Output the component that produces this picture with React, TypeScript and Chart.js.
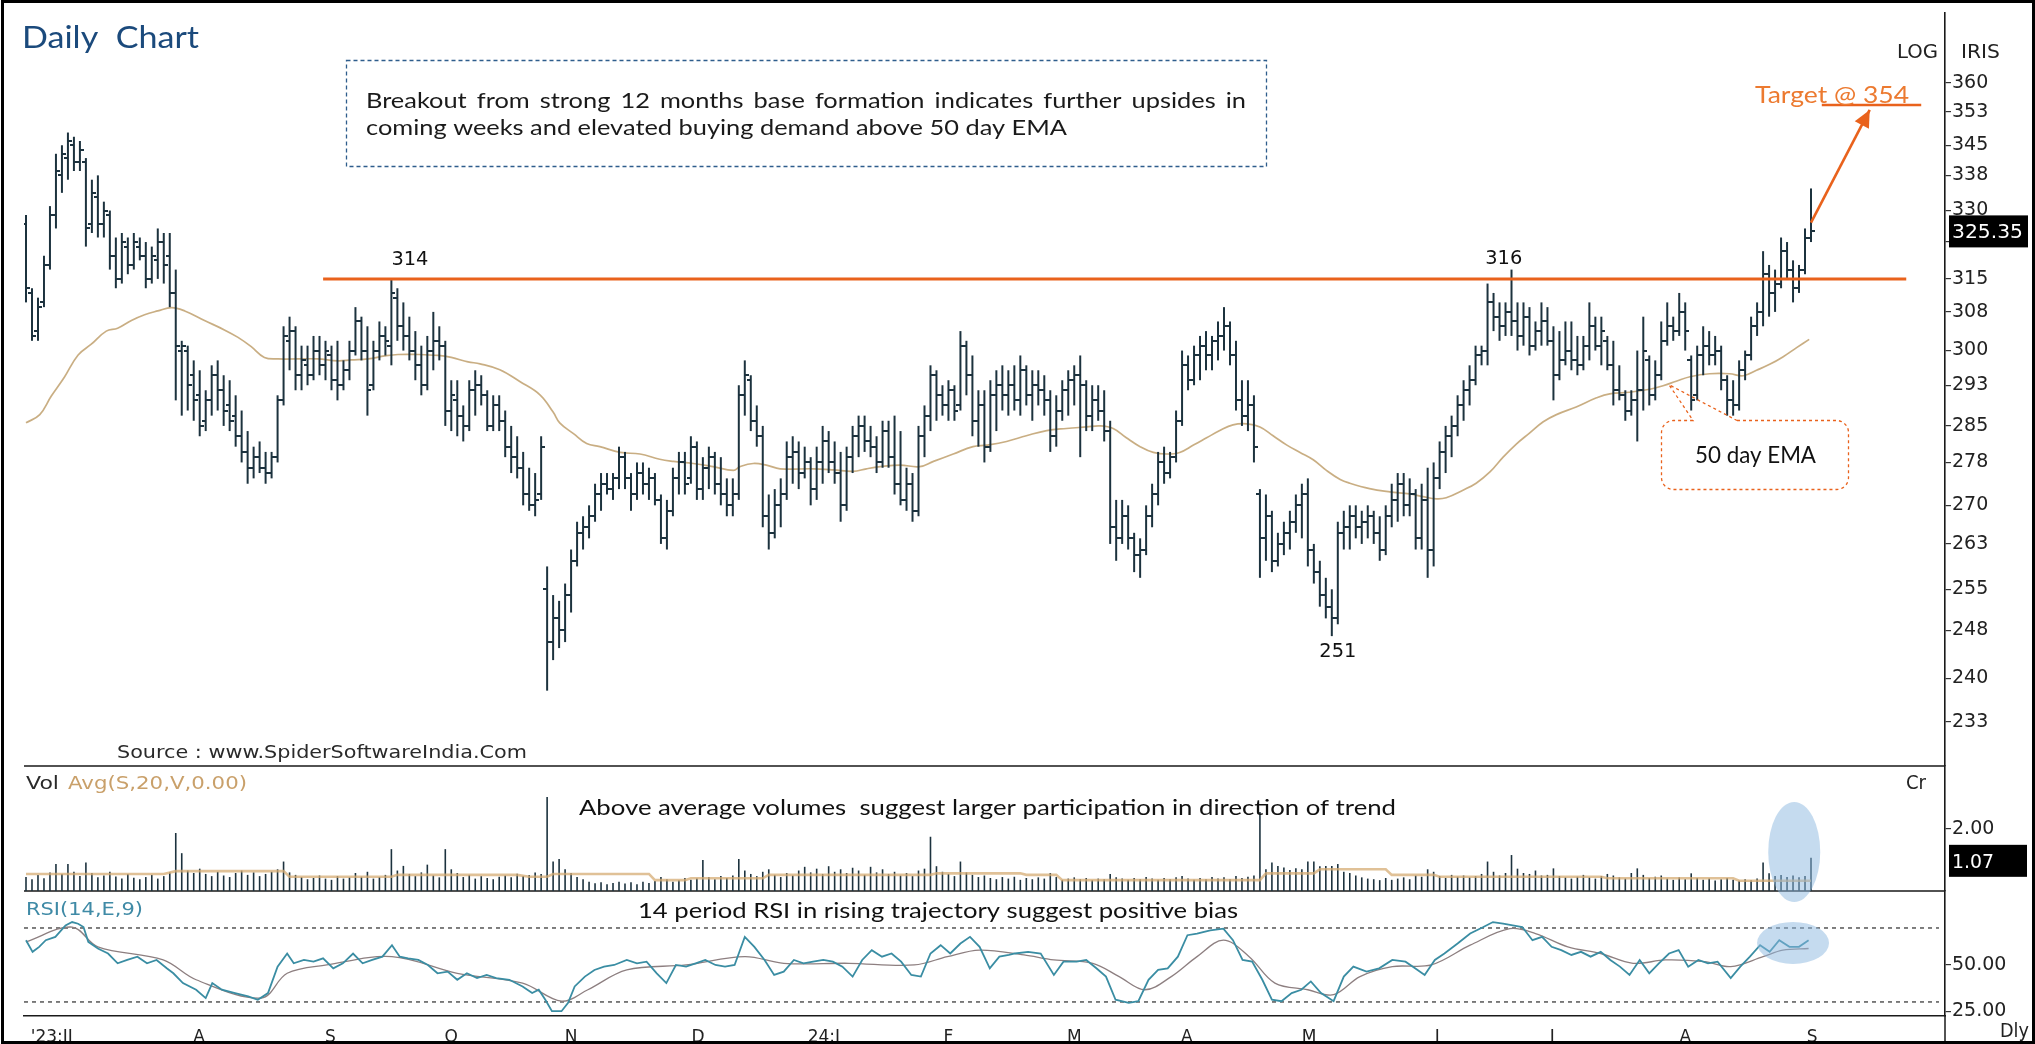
import React, { useEffect, useRef } from 'react';
import { Chart, registerables } from 'chart.js';

Chart.register(...registerables);

const W = 2035;
const H = 1044;

// ---------- DATA ----------
const opens = [
  327,312,304,310,318,329,338,342,345,341,
  341,327,333,327,329,320,315,322,318,322,
  320,315,319,323,320,312,300,300,295,291,
  286,290,295,292,289,287,283,280,277,279,
  277,276,279,290,302,304,295,297,295,300,
  297,299,294,293,296,300,306,300,293,300,
  303,301,311,305,303,300,297,293,300,302,
  301,288,290,287,285,292,293,291,285,289,
  286,281,279,277,272,270,272,255,246,250,
  248,254,260,265,266,268,272,274,273,275,
  279,275,272,276,274,275,271,264,269,275,
  278,275,281,273,277,279,274,272,270,272,
  291,294,286,283,268,265,270,272,279,280,
  276,278,273,278,282,278,276,270,279,283,
  285,282,281,278,284,279,274,271,274,269,
  283,287,295,291,289,292,289,301,295,286,
  289,281,291,293,291,293,290,296,291,293,
  292,290,283,288,292,294,295,293,287,290,
  288,284,266,264,268,264,261,262,268,272,
  278,276,279,286,297,294,299,301,299,302,
  303,305,299,290,287,289,272,264,268,260,
  263,265,267,270,272,262,258,254,252,250,
  265,266,268,266,267,268,265,262,268,271,
  274,270,272,264,271,262,275,280,283,285,
  289,292,294,299,300,310,307,305,308,306,
  303,307,301,304,306,302,295,298,300,298,
  297,301,305,301,302,297,292,291,288,290,
  292,298,291,295,302,305,304,308,298,291,
  299,301,299,300,294,290,289,296,299,305,
  308,316,312,314,321,317,313,317,324,
];
const highs = [
  329,313,311,320,331,343,345,348,347,346,
  342,337,338,332,330,324,325,324,325,324,
  323,322,326,325,325,317,302,301,298,296,
  292,297,298,295,294,291,288,284,281,282,
  280,280,291,305,307,305,301,301,303,303,
  302,301,302,298,302,309,307,305,302,306,
  305,315,313,310,307,304,301,303,308,305,
  302,294,294,289,294,296,295,292,291,291,
  288,285,283,280,277,276,283,259,254,253,
  256,262,267,268,270,274,276,276,276,281,
  280,276,278,278,277,276,272,271,277,280,
  280,283,282,279,281,280,279,275,275,293,
  298,295,289,285,272,273,275,282,283,282,
  281,279,281,285,284,282,280,281,285,287,
  287,285,283,286,286,287,284,277,276,285,
  289,297,296,293,294,293,304,302,299,292,
  292,294,296,297,296,297,299,297,296,296,
  295,292,291,294,296,297,299,294,293,293,
  292,286,271,271,270,265,264,270,274,280,
  281,280,288,300,299,301,303,304,303,306,
  309,306,302,294,294,291,273,272,269,265,
  267,269,272,274,275,263,260,257,255,267,
  269,270,270,269,270,269,268,270,274,276,
  276,275,273,274,277,278,282,285,287,291,
  294,297,301,301,314,312,310,310,317,310,
  310,309,306,310,309,305,304,306,306,303,
  303,310,307,307,303,302,297,292,292,300,
  307,299,298,306,310,307,312,310,299,301,
  305,304,303,301,295,294,298,300,307,310,
  321,318,317,324,323,319,318,326,335,
];
const lows = [
  310,302,302,309,317,326,334,337,339,339,
  322,325,324,324,317,313,314,316,317,319,
  313,314,315,314,309,290,287,288,286,283,
  284,287,288,285,284,281,278,274,275,276,
  274,275,278,289,296,292,292,293,294,295,
  294,292,290,292,294,299,298,287,292,298,
  299,297,302,300,298,294,291,292,296,298,
  285,284,283,282,284,287,289,284,284,284,
  279,276,275,270,269,268,271,238,243,245,
  246,251,259,262,264,267,269,272,271,273,
  273,269,271,272,271,270,263,262,268,272,
  272,274,271,271,273,272,270,268,268,271,
  287,284,281,266,262,264,266,271,274,273,
  275,270,271,274,276,274,267,269,276,279,
  280,279,276,277,277,272,270,269,267,268,
  279,284,286,287,286,286,288,291,283,281,
  278,280,284,288,287,288,287,289,286,289,
  287,280,281,286,287,289,279,284,284,286,
  282,263,260,263,262,258,257,261,266,270,
  274,275,278,285,292,293,294,296,296,298,
  300,297,288,285,284,278,257,260,258,259,
  261,262,265,264,259,256,252,250,247,249,
  262,262,264,263,264,263,260,261,266,267,
  268,268,262,262,257,259,273,276,279,283,
  286,289,293,297,297,304,302,303,303,300,
  301,299,300,301,301,290,294,297,296,295,
  296,298,300,297,296,289,290,286,287,282,
  288,289,290,294,301,302,303,300,288,290,
  295,297,297,292,287,287,288,294,298,303,
  305,307,308,313,315,310,312,316,323,
];
const closes = [
  313,303,309,318,329,339,343,346,341,344,
  326,334,327,330,320,315,323,318,323,320,
  315,320,323,318,312,301,301,293,290,285,
  290,295,292,288,286,283,280,277,279,277,
  276,279,290,303,304,295,298,295,300,297,
  300,294,293,296,300,306,300,292,300,303,
  302,312,305,303,300,297,293,300,302,301,
  288,291,287,285,292,293,291,285,289,286,
  281,279,277,272,270,271,281,246,250,248,
  254,260,265,266,268,272,274,273,275,279,
  275,272,276,274,275,271,264,269,275,278,
  274,281,273,277,279,274,272,270,272,291,
  295,286,283,268,265,270,272,279,280,276,
  278,273,278,282,278,276,270,279,283,285,
  282,281,278,284,279,274,271,274,269,283,
  287,295,291,289,292,288,301,295,286,289,
  281,291,293,291,293,290,296,291,293,292,
  290,283,288,292,294,295,293,287,290,288,
  284,266,264,268,264,261,262,268,272,278,
  276,279,286,297,294,299,301,299,302,303,
  305,299,290,287,289,281,264,268,260,263,
  265,267,270,272,262,258,254,252,250,265,
  266,268,266,267,268,265,262,268,271,274,
  270,272,264,271,262,275,280,283,285,289,
  292,294,299,300,310,307,305,308,306,303,
  307,301,304,306,302,295,298,300,298,297,
  301,305,301,304,297,292,291,288,290,292,
  300,291,295,302,305,304,308,304,290,299,
  301,299,300,294,290,289,296,299,305,308,
  316,312,314,321,317,313,317,324,325.35,
];
const volumes = [
  0.45,0.38,0.52,0.41,0.60,0.87,0.55,0.87,0.62,0.48,
  0.92,0.58,0.44,0.50,0.62,0.47,0.40,0.55,0.43,0.38,
  0.45,0.52,0.40,0.48,0.60,1.87,1.22,0.66,0.58,0.72,
  0.55,0.48,0.62,0.50,0.45,0.58,0.66,0.52,0.60,0.48,
  0.55,0.62,0.70,0.95,0.60,0.52,0.45,0.38,0.42,0.50,
  0.40,0.36,0.48,0.40,0.44,0.58,0.46,0.62,0.40,0.45,
  0.52,1.35,0.66,0.81,0.55,0.48,0.60,0.85,0.50,0.44,
  1.35,0.70,0.58,0.45,0.52,0.40,0.48,0.42,0.38,0.46,
  0.50,0.44,0.56,0.48,0.52,0.60,0.55,3.03,0.95,1.03,
  0.70,0.58,0.45,0.38,0.30,0.25,0.28,0.22,0.26,0.30,
  0.24,0.28,0.22,0.30,0.26,0.32,0.45,0.38,0.30,0.35,
  0.42,0.36,0.40,1.00,0.45,0.38,0.48,0.42,0.50,1.03,
  0.66,0.55,0.48,0.62,0.70,0.52,0.45,0.58,0.50,0.66,
  0.78,0.60,0.72,0.55,0.80,0.62,0.70,0.58,0.75,0.66,
  0.52,0.78,0.60,0.70,0.55,0.62,0.50,0.58,0.48,0.66,
  0.72,1.75,0.80,0.62,0.55,0.48,0.95,0.60,0.52,0.45,
  0.50,0.42,0.38,0.45,0.40,0.46,0.36,0.42,0.38,0.44,
  0.40,0.58,0.45,0.36,0.40,0.44,0.38,0.42,0.35,0.40,
  0.38,0.55,0.44,0.40,0.36,0.42,0.38,0.45,0.40,0.36,
  0.42,0.38,0.44,0.48,0.40,0.36,0.42,0.38,0.45,0.40,
  0.44,0.38,0.48,0.42,0.46,0.50,2.55,0.70,0.92,0.81,
  0.76,0.68,0.73,0.70,0.95,0.95,0.80,0.81,0.81,0.87,
  0.62,0.58,0.50,0.44,0.40,0.38,0.35,0.42,0.36,0.40,
  0.44,0.38,0.50,0.46,0.70,0.62,0.48,0.42,0.52,0.46,
  0.50,0.44,0.48,0.55,0.95,0.62,0.50,0.58,1.16,0.72,
  0.58,0.55,0.66,0.50,0.52,0.73,0.48,0.44,0.40,0.46,
  0.52,0.44,0.40,0.48,0.55,0.50,0.44,0.40,0.58,0.73,
  0.52,0.42,0.46,0.50,0.40,0.36,0.44,0.38,0.57,0.42,
  0.36,0.40,0.34,0.38,0.42,0.36,0.33,0.38,0.35,0.40,
  0.92,0.57,0.48,0.52,0.45,0.50,0.44,0.48,1.07,
];
const volAvgIdx = [0,23,25,43,44,61,62,82,84,87,88,104,105,110,111,123,124,151,152,166,167,172,173,206,207,215,216,227,228,235,236,263,264,285,286,298];
const volAvgVal = [0.55,0.55,0.64,0.64,0.46,0.46,0.52,0.52,0.46,0.46,0.55,0.55,0.35,0.35,0.41,0.41,0.52,0.52,0.57,0.57,0.52,0.52,0.35,0.35,0.57,0.57,0.70,0.70,0.52,0.52,0.46,0.46,0.41,0.41,0.33,0.33];

const emaIdx = [0,2.3,4.2,6.4,8.7,10.9,13.4,15.3,17.6,19.8,22,24.3,26.5,29.8,33.2,35.4,37.6,39.8,42.1,45.4,48.7,52.1,54.3,57.1,59.9,62.1,65.4,68.8,71,73.8,75.8,79.1,82.5,85.8,88,89.1,91.4,93.6,95.8,99.2,102.5,105.8,108.1,111.4,114.7,118.1,119.2,121.4,123.6,125.9,131.4,134.8,138.1,140.3,142.6,145.9,149.2,151.5,154.8,158.1,160.4,163.7,167,170.4,173.7,177.1,179.3,181.5,183.7,186,188.2,190.4,192.6,194.9,197.1,199.3,201.5,203.8,206,208.2,210.5,212.7,214.9,217.1,219.4,221,224.3,227.7,231,233.2,235.5,237.1,239.9,242.1,244.4,246.6,248.8,251,253.3,255.5,258.8,262.2,264.4,267.7,271.1,273.3,275.5,277.8,281.1,284.4,286.7,288.9,291.1,293.3,295.6,297.7];
const emaVal = [285.6,287.2,290.8,294.6,299.1,301.3,304,304.6,306.2,307.4,308.2,308.9,308.2,306.2,304.2,302.7,300.8,298.6,298.3,298.3,298.3,297.9,298.1,298.3,298.9,299.2,299.2,299.0,298.6,297.7,297.3,296.1,293.7,291.1,287.7,285.6,283.5,281.6,281,279.9,279.6,278.6,278.2,277.8,277.2,276.5,277.2,277.8,277.5,276.8,276.8,276.6,276.3,276.8,277.2,277.5,277.2,278.2,279.6,281.0,281.3,282.0,283.1,284.1,284.5,284.8,285.0,284.5,282.7,281.0,279.9,279.6,279.9,281.3,282.7,284.1,285.2,285.4,284.8,283.1,281.3,279.9,278.5,276.5,274.8,274.1,273.1,272.5,272.1,271.6,271.2,271.4,272.8,274.1,276.2,279.0,281.5,283.6,285.8,287.2,288.7,290.5,291.3,291.6,292.2,292.9,293.8,294.7,295.3,295.3,294.9,296.0,297.2,298.7,300.6,302.3];

const rsiIdx = [0,1.1,2.2,3.3,4.9,6.6,7.7,8.7,9.6,10.4,12,13.7,15.3,16.9,18.6,20.2,21.8,23.5,24.6,26.2,28.4,30,31.1,32.7,34.9,37.1,38.7,40.4,42,43.6,44.7,46.4,48,49.6,51.3,52.9,54.6,56.2,57.8,59.5,61.1,62.4,63.8,65.5,67.1,68.7,70.4,72,73.6,75.3,76.9,78.5,80.7,82.9,84.5,85.6,86.7,87.8,89.4,90.5,91.6,93.3,94.9,96.5,98.2,100.3,102,103.6,105.3,106.9,108.5,110.2,111.8,113.4,115.1,116.7,118.3,120,121.6,123.3,124.9,126.5,128.2,129.8,131.4,133.1,134.7,136.3,138,139.6,141.2,142.9,144.5,146.1,147.8,149.4,151,152.7,154.3,156,157.6,159.2,160.9,162.5,164.1,165.1,167.3,169.4,171.6,173.2,175.4,177,178.7,180.3,181.9,184.1,185.7,187.4,189,190.6,192.3,193.9,195.5,197.7,199.9,201.5,203.1,204.7,206.4,208,209.6,211.3,212.9,214.5,216.2,218.3,220,221.6,223.8,225.9,228.1,230.3,231.9,233.5,235.2,236.8,239,241.1,243.3,244.9,246.6,248.2,249.8,251.5,253.1,254.7,256.3,258,259.6,261.2,262.9,264.5,266.1,267.7,269.4,271,272.6,274.3,275.9,277.5,279.2,280.8,282.4,284.6,286.2,287.8,289.5,291.1,292.7,294.4,296,297.6];
const rsiVal = [63.4,57.1,59.8,63.4,65.2,71.4,73.2,72.3,70.5,62.5,58.9,56.2,50.9,52.7,54.5,50.9,52.7,48.2,45.5,40.2,36.6,32.1,40.2,36.6,34.8,33.0,31.2,34.8,49.1,56.2,50.9,52.7,51.8,53.6,48.2,50.9,56.2,50.9,52.7,54.5,60.7,54.5,53.6,52.7,50.0,45.5,46.4,42.0,45.5,42.9,44.6,42.9,42.0,38.4,34.8,36.6,31.2,25.0,25.0,29.5,38.4,43.7,47.3,49.1,50.0,52.7,50.9,51.8,45.5,40.2,50.0,49.1,50.9,52.7,50.0,49.1,50.0,65.2,59.8,52.7,44.6,46.4,52.7,50.9,51.8,52.7,51.8,49.1,43.7,52.7,58.0,54.5,56.2,51.8,44.6,43.7,56.2,60.7,56.2,61.6,65.2,59.8,48.2,54.5,55.4,56.2,57.1,56.2,44.6,51.8,51.8,52.7,48.2,43.7,31.2,29.5,30.4,42.0,47.3,48.2,54.5,66.1,67.0,68.7,69.6,63.4,52.7,51.8,42.0,31.2,30.4,34.8,36.6,41.1,34.8,30.4,43.7,49.1,46.4,48.2,52.7,51.8,48.2,44.6,52.7,56.2,61.6,67.0,70.5,73.2,72.3,71.4,70.5,63.4,65.2,59.8,58.0,55.4,57.1,54.5,57.1,52.7,49.1,44.6,52.7,45.5,50.9,56.2,58.0,49.1,52.7,50.9,51.8,42.9,49.1,54.5,60.7,57.1,63.4,59.8,59.8,63.4];
const sigIdx = [0,7.7,12,22.9,28.4,39.3,43.6,50.2,61.1,72,82.9,89.4,93.8,100.3,110.2,120,126.5,137.4,148.3,153.8,159.2,166.6,171.6,178.1,182.5,186.8,191.2,195.5,199.9,204.2,208.5,214,218.3,222.7,228.1,234.6,241.1,247.7,252,257.4,262.9,268.3,273.7,280.2,284.6,290,293.3,297.6];
const sigVal = [62.5,70.5,59.8,52.7,42,32.1,45.5,50,54.5,45.5,40.2,30.4,36.6,47.3,50,54.5,50.9,50.9,50,54.5,58,55.4,52.7,50.9,43.7,36.6,43.7,54.5,63.4,54.5,40.2,36.6,33.9,43.7,49.1,50,60.7,69.6,67,59.8,56.2,50.9,52.7,51.8,49.1,54.5,58,58.9];

const priceTicks = [360,353,345,338,330,323,315,308,300,293,285,278,270,263,255,248,240,233];
const volTicks = [2];
const rsiTicks = [50, 25];
const xTickPos = [4.3,28.9,50.8,71,91,112.2,133.2,154,175,193.8,214.2,235.6,254.8,277,298.2];
const xTickLabels = ["'23:JJ",'A','S','O','N','D','24:J','F','M','A','M','J','J','A','S'];

const resistanceLevel = 315;
const resistanceSpan = [49.6, 313.9];
const targetLevel = 354.6;
const targetSpan = [299.8, 316.4];
const arrowStart = [298, 327.3];
const arrowTip = [307.8, 353.4];
const pivotText = ['314', '316', '251'];
const pivotIdx = [64.1, 246.7, 219];
const pivotPrice = [318.0, 318.2, 243.5];
const lastClose = 325.35;
const lastVolume = 1.07;

// ---------- helpers ----------
const ORANGE = '#e9621c';
const BAR = '#1c323e';

function fitText(c: any, text: string, x: number, base: number, width: number, font: string, color: string, align = 'left') {
  c.save();
  c.font = font;
  const m = c.measureText(text).width || 1;
  const s = width / m;
  c.fillStyle = color;
  c.textBaseline = 'alphabetic';
  c.textAlign = 'left';
  c.translate(align === 'center' ? x - width / 2 : x, base);
  c.scale(s, 1);
  c.fillText(text, 0, 0);
  c.restore();
  return s;
}

function justified(c: any, text: string, x: number, base: number, width: number, font: string, color: string, sx: number) {
  c.save();
  c.font = font;
  c.fillStyle = color;
  c.textBaseline = 'alphabetic';
  const words = text.split(' ');
  const ws = words.map((w) => c.measureText(w).width * sx);
  const total = ws.reduce((a, b) => a + b, 0);
  const gap = (width - total) / (words.length - 1);
  let cx = x;
  words.forEach((w, k) => {
    c.save();
    c.translate(cx, base);
    c.scale(sx, 1);
    c.fillText(w, 0, 0);
    c.restore();
    cx += ws[k] + gap;
  });
  c.restore();
}

function tickCanvas(side: 'left' | 'right') {
  const cv = document.createElement('canvas');
  cv.width = 8;
  cv.height = 2;
  const g = cv.getContext('2d')!;
  g.fillStyle = BAR;
  if (side === 'left') g.fillRect(0, 0, 4, 2);
  else g.fillRect(4, 0, 4, 2);
  return cv;
}

const overlayPlugin = {
  id: 'overlay',
  beforeDraw(chart: any) {
    const c = chart.ctx;
    c.save();
    c.fillStyle = '#ffffff';
    c.fillRect(0, 0, W, H);
    c.restore();
  },
  beforeDatasetsDraw(chart: any) {
    const c = chart.ctx;
    const a = chart.chartArea;
    const yV = chart.scales.yV;
    const yR = chart.scales.yR;
    c.save();
    c.strokeStyle = '#1a1a1a';
    c.lineWidth = 1.6;
    c.beginPath();
    c.moveTo(a.left, yV.top); c.lineTo(a.right, yV.top);
    c.moveTo(a.left, yV.bottom); c.lineTo(a.right, yV.bottom);
    c.stroke();
    c.setLineDash([4, 4]);
    c.strokeStyle = '#4a4a4a';
    c.lineWidth = 1.4;
    [70, 30].forEach((v) => {
      const y = yR.getPixelForValue(v);
      c.beginPath();
      c.moveTo(a.left, y);
      c.lineTo(a.right - 6, y);
      c.stroke();
    });
    c.restore();
  },
  afterDatasetsDraw(chart: any) {
    const c = chart.ctx;
    const a = chart.chartArea;
    const xS = chart.scales.x;
    const yP = chart.scales.yP;
    const yV = chart.scales.yV;
    const yR = chart.scales.yR;

    // highlight ellipses
    c.save();
    c.fillStyle = 'rgba(140,184,224,0.5)';
    c.beginPath();
    c.ellipse(xS.getPixelForValue(295.2), yV.getPixelForValue(1.26), 26, 50, 0, 0, Math.PI * 2);
    c.fill();
    c.beginPath();
    c.ellipse(xS.getPixelForValue(295), yR.getPixelForValue(61.9), 36, 21, 0, 0, Math.PI * 2);
    c.fill();
    c.restore();

    // arrow head
    const sx = xS.getPixelForValue(arrowStart[0]);
    const sy = yP.getPixelForValue(arrowStart[1]);
    const tx = xS.getPixelForValue(arrowTip[0]);
    const ty = yP.getPixelForValue(arrowTip[1]);
    const len = Math.hypot(tx - sx, ty - sy) || 1;
    const dx = (tx - sx) / len;
    const dy = (ty - sy) / len;
    const bx = tx - dx * 17;
    const by = ty - dy * 17;
    c.save();
    c.fillStyle = ORANGE;
    c.beginPath();
    c.moveTo(tx, ty);
    c.lineTo(bx - dy * 8, by + dx * 8);
    c.lineTo(bx + dy * 8, by - dx * 8);
    c.closePath();
    c.fill();
    c.restore();

    // pivot labels
    pivotText.forEach((t, k) => {
      fitText(c, t, xS.getPixelForValue(pivotIdx[k]), yP.getPixelForValue(pivotPrice[k]), 37, '20px "DejaVu Sans"', '#111', 'center');
    });

    // last price box
    const yc = yP.getPixelForValue(lastClose);
    c.save();
    c.fillStyle = '#000';
    c.fillRect(a.right + 4, yc - 16, 79, 32);
    c.restore();
    fitText(c, lastClose.toFixed(2), a.right + 7, yc + 7, 71, '19px "DejaVu Sans"', '#fff');

    // last volume box
    const yv = yV.getPixelForValue(lastVolume);
    c.save();
    c.fillStyle = '#000';
    c.fillRect(a.right + 4, yv - 13, 78, 32);
    c.restore();
    fitText(c, lastVolume.toFixed(2), a.right + 7, yv + 10, 42, '19px "DejaVu Sans"', '#fff');

    // axis line extension below
    c.save();
    c.strokeStyle = '#1a1a1a';
    c.lineWidth = 1.5;
    c.beginPath();
    c.moveTo(a.right, a.bottom);
    c.lineTo(a.right, H);
    c.stroke();
    c.restore();

    // title
    fitText(c, 'Daily  Chart', 22, 48, 177, '31px Lato', '#1b4a7c');

    // annotation box
    c.save();
    c.strokeStyle = '#2e5d8c';
    c.lineWidth = 1.3;
    c.setLineDash([4, 3]);
    c.strokeRect(346.5, 60.5, 920, 106);
    c.restore();
    const l2 = 'coming weeks and elevated buying demand above 50 day EMA';
    const s2 = fitText(c, l2, 366, 135, 701, '22px Lato', '#1a1a1a');
    justified(c, 'Breakout from strong 12 months base formation indicates further upsides in', 366, 108, 880, '22px Lato', '#1a1a1a', s2);

    // target text
    fitText(c, 'Target @ 354', 1755, 103, 154, '23px Lato', '#ec7a30');

    // 50 day EMA callout
    const tipX = xS.getPixelForValue(274.3);
    const tipY = yP.getPixelForValue(293.1);
    const L = 1661.5, T = 420.5, R = 1848.5, B = 489.5, r = 12;
    c.save();
    c.strokeStyle = ORANGE;
    c.lineWidth = 1.3;
    c.setLineDash([3, 3]);
    c.beginPath();
    c.moveTo(1737, T);
    c.lineTo(R - r, T);
    c.arcTo(R, T, R, T + r, r);
    c.lineTo(R, B - r);
    c.arcTo(R, B, R - r, B, r);
    c.lineTo(L + r, B);
    c.arcTo(L, B, L, B - r, r);
    c.lineTo(L, T + r);
    c.arcTo(L, T, L + r, T, r);
    c.lineTo(1693, T);
    c.lineTo(tipX, tipY);
    c.lineTo(1737, T);
    c.stroke();
    c.restore();
    fitText(c, '50 day EMA', 1695, 463, 121, '23px Lato', '#111');

    // panel texts
    fitText(c, 'Source : www.SpiderSoftwareIndia.Com', 117, 758, 410, '18px "DejaVu Sans"', '#2a2a2a');
    fitText(c, 'Vol', 26, 789, 33, '18px "DejaVu Sans"', '#2a2a2a');
    fitText(c, 'Avg(S,20,V,0.00)', 68, 789, 179, '18px "DejaVu Sans"', '#c9a06a');
    fitText(c, 'Above average volumes  suggest larger participation in direction of trend', 579, 815, 817, '21px Lato', '#111');
    fitText(c, 'RSI(14,E,9)', 26, 915, 117, '18px "DejaVu Sans"', '#3f8aa6');
    fitText(c, '14 period RSI in rising trajectory suggest positive bias', 638, 918, 600, '21px Lato', '#111');
    fitText(c, 'LOG', 1897, 58, 41, '19px "DejaVu Sans"', '#222');
    fitText(c, 'IRIS', 1961, 58, 39, '19px "DejaVu Sans"', '#222');
    fitText(c, 'Cr', 1906, 789, 20, '19px "DejaVu Sans"', '#222');
    fitText(c, 'Dly', 2000, 1037, 29, '19px "DejaVu Sans"', '#222');

    // frame
    c.save();
    c.strokeStyle = '#000';
    c.lineWidth = 3;
    c.strokeRect(2.5, 1.5, W - 4, H - 3);
    c.restore();
  },
};

export default function App() {
  const ref = useRef<HTMLCanvasElement>(null);

  useEffect(() => {
    const canvas = ref.current;
    if (!canvas) return;
    const N = Math.min(opens.length, highs.length, lows.length, closes.length);
    const idx = Array.from({ length: N }, (_, k) => k);
    const openTick = tickCanvas('left');
    const closeTick = tickCanvas('right');

    const chart = new Chart(canvas, {
      type: 'bar',
      data: {
        datasets: [
          {
            type: 'line', label: 'resistance',
            data: [{ x: resistanceSpan[0], y: resistanceLevel }, { x: resistanceSpan[1], y: resistanceLevel }],
            borderColor: ORANGE, borderWidth: 3, pointRadius: 0, yAxisID: 'yP', xAxisID: 'x',
          },
          {
            type: 'line', label: 'target',
            data: [{ x: targetSpan[0], y: targetLevel }, { x: targetSpan[1], y: targetLevel }],
            borderColor: ORANGE, borderWidth: 2.5, pointRadius: 0, yAxisID: 'yP', xAxisID: 'x',
          },
          {
            type: 'line', label: 'arrow',
            data: [{ x: arrowStart[0], y: arrowStart[1] }, { x: arrowTip[0], y: arrowTip[1] }],
            borderColor: ORANGE, borderWidth: 2.6, pointRadius: 0, yAxisID: 'yP', xAxisID: 'x',
          },
          {
            type: 'line', label: 'open',
            data: idx.map((k) => ({ x: k, y: opens[k] })),
            showLine: false, pointStyle: openTick, pointRadius: 3, yAxisID: 'yP', xAxisID: 'x',
          },
          {
            type: 'line', label: 'close',
            data: idx.map((k) => ({ x: k, y: closes[k] })),
            showLine: false, pointStyle: closeTick, pointRadius: 3, yAxisID: 'yP', xAxisID: 'x',
          },
          {
            type: 'bar', label: 'range',
            data: idx.map((k) => ({ x: k, y: [lows[k], highs[k]] })),
            backgroundColor: BAR, borderWidth: 0, grouped: false, maxBarThickness: 2,
            yAxisID: 'yP', xAxisID: 'x',
          },
          {
            type: 'line', label: 'ema',
            data: emaIdx.map((v, k) => ({ x: v, y: emaVal[k] })),
            borderColor: 'rgba(198,170,124,0.95)', borderWidth: 1.7, pointRadius: 0, tension: 0.4,
            yAxisID: 'yP', xAxisID: 'x',
          },
          {
            type: 'line', label: 'volAvg',
            data: volAvgIdx.map((v, k) => ({ x: v, y: volAvgVal[k] })),
            borderColor: 'rgba(214,172,116,0.75)', borderWidth: 2.6, pointRadius: 0,
            yAxisID: 'yV', xAxisID: 'x',
          },
          {
            type: 'bar', label: 'volume',
            data: idx.map((k) => ({ x: k, y: volumes[k] })),
            backgroundColor: BAR, borderWidth: 0, grouped: false, maxBarThickness: 1.6,
            yAxisID: 'yV', xAxisID: 'x',
          },
          {
            type: 'line', label: 'rsi',
            data: rsiIdx.map((v, k) => ({ x: v, y: rsiVal[k] })),
            borderColor: '#3a8da3', borderWidth: 1.8, pointRadius: 0, tension: 0,
            yAxisID: 'yR', xAxisID: 'x',
          },
          {
            type: 'line', label: 'signal',
            data: sigIdx.map((v, k) => ({ x: v, y: sigVal[k] })),
            borderColor: '#8d7f80', borderWidth: 1.3, pointRadius: 0, tension: 0.35,
            yAxisID: 'yR', xAxisID: 'x',
          },
        ] as any,
      },
      options: {
        responsive: false,
        maintainAspectRatio: false,
        animation: false,
        devicePixelRatio: 1,
        events: [],
        layout: { padding: { left: 24, top: 13, right: 0, bottom: 0 } },
        plugins: { legend: { display: false }, tooltip: { enabled: false }, title: { display: false } },
        scales: {
          x: {
            type: 'linear', position: 'bottom', min: -0.334, max: 320.37, bounds: 'data', offset: false,
            grid: { display: false, offset: false },
            border: { display: true, color: '#1a1a1a', width: 1.6 },
            afterBuildTicks: (s: any) => { s.ticks = xTickPos.map((v) => ({ value: v })); },
            afterFit: (s: any) => { s.height = 28; },
            ticks: {
              autoSkip: false, maxRotation: 0, minRotation: 0, padding: 3, color: '#222',
              font: { family: 'DejaVu Sans', size: 17 },
              callback: (_v: any, i: number) => xTickLabels[i],
            },
          },
          yP: {
            type: 'logarithmic', position: 'right', stack: 'panes', stackWeight: 753,
            min: 226.1, max: 377.5, bounds: 'data', beginAtZero: false,
            afterBuildTicks: (s: any) => { s.ticks = priceTicks.map((v) => ({ value: v })); },
            afterFit: (s: any) => { s.width = 90; },
            grid: { display: true, drawOnChartArea: false, drawTicks: true, tickLength: 6, color: '#333', lineWidth: 1.2 },
            border: { display: true, color: '#1a1a1a', width: 1.6 },
            ticks: {
              autoSkip: false, padding: 1, color: '#222', font: { family: 'DejaVu Sans', size: 19 },
              callback: (v: any) => (v === 323 ? '' : String(v)),
            },
          },
          yV: {
            type: 'linear', position: 'right', stack: 'panes', stackWeight: 125,
            min: 0, max: 4.032, bounds: 'data', beginAtZero: false,
            afterBuildTicks: (s: any) => { s.ticks = volTicks.map((v) => ({ value: v })); },
            afterFit: (s: any) => { s.width = 90; },
            grid: { display: true, drawOnChartArea: false, drawTicks: true, tickLength: 6, color: '#333', lineWidth: 1.2 },
            border: { display: true, color: '#1a1a1a', width: 1.6 },
            ticks: {
              autoSkip: false, padding: 1, color: '#222', font: { family: 'DejaVu Sans', size: 19 },
              callback: (v: any) => Number(v).toFixed(2),
            },
          },
          yR: {
            type: 'linear', position: 'right', stack: 'panes', stackWeight: 125,
            min: 22.4, max: 90, bounds: 'data', beginAtZero: false,
            afterBuildTicks: (s: any) => { s.ticks = rsiTicks.map((v) => ({ value: v })); },
            afterFit: (s: any) => { s.width = 90; },
            grid: { display: true, drawOnChartArea: false, drawTicks: true, tickLength: 6, color: '#333', lineWidth: 1.2 },
            border: { display: true, color: '#1a1a1a', width: 1.6 },
            ticks: {
              autoSkip: false, padding: 1, color: '#222', font: { family: 'DejaVu Sans', size: 19 },
              callback: (v: any) => Number(v).toFixed(2),
            },
          },
        },
      } as any,
      plugins: [overlayPlugin],
    });

    return () => chart.destroy();
  }, []);

  return (
    <div style={{ position: 'fixed', left: 0, top: 0, width: W, height: H, background: '#fff', overflow: 'hidden' }}>
      <canvas ref={ref} width={W} height={H} style={{ display: 'block', width: W, height: H }} />
    </div>
  );
}
